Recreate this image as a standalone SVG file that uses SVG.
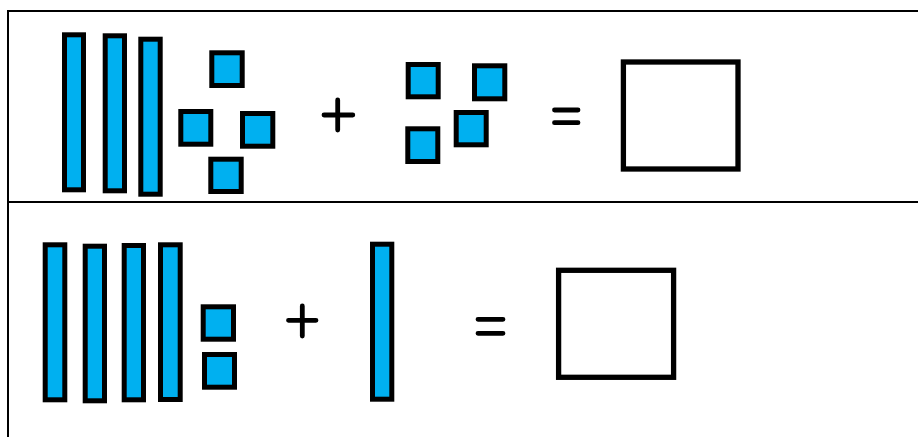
<svg xmlns="http://www.w3.org/2000/svg" width="918" height="437" viewBox="0 0 918 437">
<style>
.frame{stroke:#000;stroke-width:2;fill:none}
.blk{fill:#00B0F0;stroke:#000;stroke-width:5}
.ans{fill:#fff;stroke:#000;stroke-width:5.3}
.op{stroke:#000;stroke-width:4.8;stroke-linecap:round;fill:none}
</style>
<rect width="918" height="437" fill="#fff"/>
<g id="frame">
<line class="frame" x1="8" y1="11" x2="918" y2="11"/>
<line class="frame" x1="8" y1="202" x2="918" y2="202"/>
<line class="frame" x1="8" y1="10" x2="8" y2="437"/>
</g>
<g id="row1">
<g id="r1-rods">
<rect class="blk" x="64.5" y="34.8" width="19" height="155"/>
<rect class="blk" x="105.2" y="35.8" width="19.3" height="155"/>
<rect class="blk" x="140.8" y="39.2" width="19.4" height="155"/>
</g>
<g id="r1-units-a">
<rect class="blk" x="211.8" y="52.8" width="30.4" height="32.7"/>
<rect class="blk" x="180.8" y="111.5" width="30" height="32.7"/>
<rect class="blk" x="242.5" y="113.5" width="30.3" height="32.7"/>
<rect class="blk" x="210.8" y="159.2" width="30.4" height="32.3"/>
</g>
<g id="r1-plus"><path class="op" d="M324 115H352.8M337.7 100V130"/></g>
<g id="r1-units-b">
<rect class="blk" x="408.2" y="64.5" width="30" height="32.3"/>
<rect class="blk" x="474.5" y="65.8" width="30.3" height="33"/>
<rect class="blk" x="456.2" y="112.5" width="30" height="32.3"/>
<rect class="blk" x="407.8" y="128.8" width="30" height="32.7"/>
</g>
<g id="r1-equals"><path class="op" d="M554.5 110H578M554.5 122.7H578"/></g>
<g id="r1-answer"><rect class="ans" x="623.4" y="62" width="114.6" height="107"/></g>
</g>
<g id="row2">
<g id="r2-rods">
<rect class="blk" x="45.2" y="244.8" width="19.6" height="155"/>
<rect class="blk" x="85.2" y="246.2" width="19.3" height="154.6"/>
<rect class="blk" x="124.2" y="245.5" width="19.3" height="154.3"/>
<rect class="blk" x="160.5" y="244.8" width="19.7" height="154.7"/>
</g>
<g id="r2-units">
<rect class="blk" x="203.2" y="306.8" width="30.3" height="32.4"/>
<rect class="blk" x="204.5" y="354.5" width="30" height="32.7"/>
</g>
<g id="r2-plus"><path class="op" d="M288.5 320.3H316M302.3 306V336"/></g>
<g id="r2-rod"><rect class="blk" x="372.5" y="244.2" width="19.3" height="155"/></g>
<g id="r2-equals"><path class="op" d="M478 319.3H503M478 333.3H503"/></g>
<g id="r2-answer"><rect class="ans" x="558.6" y="270.3" width="115" height="107"/></g>
</g>
</svg>
